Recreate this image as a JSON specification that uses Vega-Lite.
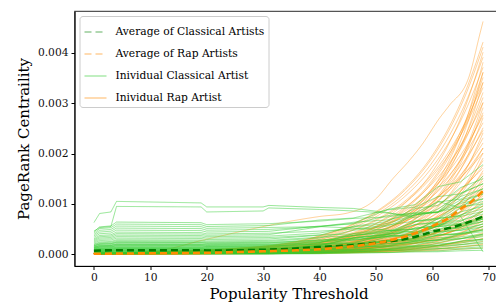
{
"$schema":"https://vega.github.io/schema/vega-lite/v6.json",
"width":428,"height":255,
"autosize":{"type":"none"},
"padding":{"left":74.5,"top":11,"right":0,"bottom":41},
"config":{
 "font":"DejaVu Serif",
 "view":{"stroke":"#555","strokeWidth":1.2},
 "axis":{"labelFont":"DejaVu Serif","titleFont":"DejaVu Serif","labelFontSize":10.7,"titleFontSize":15,"titleFontWeight":"normal","labelColor":"#111","titleColor":"#000","domainColor":"#000","domainWidth":1.1,"tickColor":"#000","tickSize":3.5,"labelPadding":3,"grid":false},
 "legend":{"orient":"top-left","offset":5,"padding":4,"fillColor":"#fff","strokeColor":"#ccc","cornerRadius":3,"labelFont":"DejaVu Serif","labelFontSize":10.7,"labelColor":"#000","symbolSize":484,"symbolType":"stroke","rowPadding":5,"labelOffset":8}
},
"datasets":{
"rap":[
{"s":"r1","x":0,"y":1e-5},{"s":"r1","x":30,"y":2e-5},{"s":"r1","x":40,"y":2.6e-5},{"s":"r1","x":45,"y":3.2e-5},{"s":"r1","x":50,"y":4.2e-5},{"s":"r1","x":55,"y":5.5e-5},{"s":"r1","x":60,"y":7.4e-5},{"s":"r1","x":63,"y":8.9e-5},{"s":"r1","x":66,"y":10.7e-5},{"s":"r1","x":69,"y":13e-5},
{"s":"r2","x":0,"y":1e-5},{"s":"r2","x":30,"y":2.2e-5},{"s":"r2","x":40,"y":3.4e-5},{"s":"r2","x":45,"y":4.3e-5},{"s":"r2","x":50,"y":5.8e-5},{"s":"r2","x":55,"y":7.8e-5},{"s":"r2","x":60,"y":10.6e-5},{"s":"r2","x":63,"y":12.8e-5},{"s":"r2","x":66,"y":15.6e-5},{"s":"r2","x":69,"y":19e-5},
{"s":"r3","x":0,"y":1.5e-5},{"s":"r3","x":30,"y":1.9e-5},{"s":"r3","x":40,"y":3.1e-5},{"s":"r3","x":45,"y":4.3e-5},{"s":"r3","x":50,"y":6e-5},{"s":"r3","x":55,"y":8.6e-5},{"s":"r3","x":60,"y":12.6e-5},{"s":"r3","x":63,"y":16e-5},{"s":"r3","x":66,"y":20.4e-5},{"s":"r3","x":69,"y":26e-5},
{"s":"r4","x":0,"y":1.5e-5},{"s":"r4","x":30,"y":3e-5},{"s":"r4","x":40,"y":4.9e-5},{"s":"r4","x":45,"y":6.6e-5},{"s":"r4","x":50,"y":8.9e-5},{"s":"r4","x":55,"y":12.3e-5},{"s":"r4","x":60,"y":17e-5},{"s":"r4","x":63,"y":20.7e-5},{"s":"r4","x":66,"y":25.3e-5},{"s":"r4","x":69,"y":31e-5},
{"s":"r5","x":0,"y":1e-5},{"s":"r5","x":30,"y":1.7e-5},{"s":"r5","x":40,"y":3e-5},{"s":"r5","x":45,"y":4.3e-5},{"s":"r5","x":50,"y":6.4e-5},{"s":"r5","x":55,"y":9.9e-5},{"s":"r5","x":60,"y":15.7e-5},{"s":"r5","x":63,"y":20.8e-5},{"s":"r5","x":66,"y":27.7e-5},{"s":"r5","x":69,"y":37e-5},
{"s":"r6","x":0,"y":2e-5},{"s":"r6","x":30,"y":2.5e-5},{"s":"r6","x":40,"y":4.6e-5},{"s":"r6","x":45,"y":6.5e-5},{"s":"r6","x":50,"y":9.4e-5},{"s":"r6","x":55,"y":13.8e-5},{"s":"r6","x":60,"y":20.5e-5},{"s":"r6","x":63,"y":26.2e-5},{"s":"r6","x":66,"y":33.6e-5},{"s":"r6","x":69,"y":43e-5},
{"s":"r7","x":0,"y":1.5e-5},{"s":"r7","x":30,"y":4.1e-5},{"s":"r7","x":40,"y":7.3e-5},{"s":"r7","x":45,"y":9.9e-5},{"s":"r7","x":50,"y":13.7e-5},{"s":"r7","x":55,"y":19e-5},{"s":"r7","x":60,"y":26.6e-5},{"s":"r7","x":63,"y":32.5e-5},{"s":"r7","x":66,"y":39.9e-5},{"s":"r7","x":69,"y":49e-5},
{"s":"r8","x":0,"y":1e-5},{"s":"r8","x":30,"y":2.1e-5},{"s":"r8","x":40,"y":4e-5},{"s":"r8","x":45,"y":6e-5},{"s":"r8","x":50,"y":9.3e-5},{"s":"r8","x":55,"y":14.6e-5},{"s":"r8","x":60,"y":23.4e-5},{"s":"r8","x":63,"y":31.2e-5},{"s":"r8","x":66,"y":41.8e-5},{"s":"r8","x":69,"y":56e-5},
{"s":"r9","x":0,"y":2e-5},{"s":"r9","x":30,"y":3.2e-5},{"s":"r9","x":40,"y":6.1e-5},{"s":"r9","x":45,"y":8.8e-5},{"s":"r9","x":50,"y":12.9e-5},{"s":"r9","x":55,"y":19.2e-5},{"s":"r9","x":60,"y":28.9e-5},{"s":"r9","x":63,"y":37e-5},{"s":"r9","x":66,"y":47.5e-5},{"s":"r9","x":69,"y":61e-5},
{"s":"r10","x":0,"y":1e-5},{"s":"r10","x":30,"y":1.6e-5},{"s":"r10","x":40,"y":3e-5},{"s":"r10","x":45,"y":4.7e-5},{"s":"r10","x":50,"y":7.7e-5},{"s":"r10","x":55,"y":13.3e-5},{"s":"r10","x":60,"y":23.4e-5},{"s":"r10","x":63,"y":33.1e-5},{"s":"r10","x":66,"y":47.1e-5},{"s":"r10","x":69,"y":67e-5},
{"s":"r11","x":0,"y":2e-5},{"s":"r11","x":30,"y":5.7e-5},{"s":"r11","x":40,"y":10.4e-5},{"s":"r11","x":45,"y":14.4e-5},{"s":"r11","x":50,"y":20e-5},{"s":"r11","x":55,"y":28e-5},{"s":"r11","x":60,"y":39.4e-5},{"s":"r11","x":63,"y":48.3e-5},{"s":"r11","x":66,"y":59.4e-5},{"s":"r11","x":69,"y":73e-5},
{"s":"r12","x":0,"y":1e-5},{"s":"r12","x":30,"y":2.6e-5},{"s":"r12","x":40,"y":5.3e-5},{"s":"r12","x":45,"y":8.1e-5},{"s":"r12","x":50,"y":12.7e-5},{"s":"r12","x":55,"y":20.3e-5},{"s":"r12","x":60,"y":32.7e-5},{"s":"r12","x":63,"y":43.8e-5},{"s":"r12","x":66,"y":58.8e-5},{"s":"r12","x":69,"y":79e-5},
{"s":"r13","x":0,"y":2e-5},{"s":"r13","x":30,"y":4.1e-5},{"s":"r13","x":40,"y":8.2e-5},{"s":"r13","x":45,"y":12.1e-5},{"s":"r13","x":50,"y":17.9e-5},{"s":"r13","x":55,"y":26.8e-5},{"s":"r13","x":60,"y":40.5e-5},{"s":"r13","x":63,"y":52e-5},{"s":"r13","x":66,"y":66.9e-5},{"s":"r13","x":69,"y":86e-5},
{"s":"r14","x":0,"y":1e-5},{"s":"r14","x":30,"y":1.8e-5},{"s":"r14","x":40,"y":3.8e-5},{"s":"r14","x":45,"y":6e-5},{"s":"r14","x":50,"y":10.2e-5},{"s":"r14","x":55,"y":17.7e-5},{"s":"r14","x":60,"y":31.6e-5},{"s":"r14","x":63,"y":44.8e-5},{"s":"r14","x":66,"y":63.8e-5},{"s":"r14","x":69,"y":91e-5},
{"s":"r15","x":0,"y":1.5e-5},{"s":"r15","x":30,"y":2.9e-5},{"s":"r15","x":40,"y":6.3e-5},{"s":"r15","x":45,"y":9.7e-5},{"s":"r15","x":50,"y":15.4e-5},{"s":"r15","x":55,"y":24.7e-5},{"s":"r15","x":60,"y":40.1e-5},{"s":"r15","x":63,"y":53.7e-5},{"s":"r15","x":66,"y":72.1e-5},{"s":"r15","x":69,"y":97e-5},
{"s":"r16","x":0,"y":2e-5},{"s":"r16","x":30,"y":7.6e-5},{"s":"r16","x":40,"y":14.4e-5},{"s":"r16","x":45,"y":20e-5},{"s":"r16","x":50,"y":27.9e-5},{"s":"r16","x":55,"y":39.3e-5},{"s":"r16","x":60,"y":55.4e-5},{"s":"r16","x":63,"y":68e-5},{"s":"r16","x":66,"y":83.7e-5},{"s":"r16","x":69,"y":103e-5},
{"s":"r17","x":0,"y":1e-5},{"s":"r17","x":30,"y":2e-5},{"s":"r17","x":40,"y":4.4e-5},{"s":"r17","x":45,"y":7.2e-5},{"s":"r17","x":50,"y":12.2e-5},{"s":"r17","x":55,"y":21.5e-5},{"s":"r17","x":60,"y":38.4e-5},{"s":"r17","x":63,"y":54.6e-5},{"s":"r17","x":66,"y":77.8e-5},{"s":"r17","x":69,"y":111e-5},
{"s":"r18","x":0,"y":2e-5},{"s":"r18","x":30,"y":5.2e-5},{"s":"r18","x":40,"y":11e-5},{"s":"r18","x":45,"y":16.3e-5},{"s":"r18","x":50,"y":24.5e-5},{"s":"r18","x":55,"y":36.9e-5},{"s":"r18","x":60,"y":55.9e-5},{"s":"r18","x":63,"y":71.8e-5},{"s":"r18","x":66,"y":92.5e-5},{"s":"r18","x":69,"y":119e-5},
{"s":"r19","x":0,"y":1e-5},{"s":"r19","x":30,"y":3.5e-5},{"s":"r19","x":40,"y":7.9e-5},{"s":"r19","x":45,"y":12.5e-5},{"s":"r19","x":50,"y":19.9e-5},{"s":"r19","x":55,"y":32.1e-5},{"s":"r19","x":60,"y":52.3e-5},{"s":"r19","x":63,"y":70.2e-5},{"s":"r19","x":66,"y":94.4e-5},{"s":"r19","x":69,"y":127e-5},
{"s":"r20","x":0,"y":1e-5},{"s":"r20","x":30,"y":2.3e-5},{"s":"r20","x":40,"y":5.2e-5},{"s":"r20","x":45,"y":8.6e-5},{"s":"r20","x":50,"y":14.8e-5},{"s":"r20","x":55,"y":26.1e-5},{"s":"r20","x":60,"y":46.9e-5},{"s":"r20","x":63,"y":66.7e-5},{"s":"r20","x":66,"y":95.2e-5},{"s":"r20","x":69,"y":136e-5},
{"s":"r21","x":0,"y":2e-5},{"s":"r21","x":30,"y":6.2e-5},{"s":"r21","x":40,"y":13.3e-5},{"s":"r21","x":45,"y":19.9e-5},{"s":"r21","x":50,"y":29.9e-5},{"s":"r21","x":55,"y":45.1e-5},{"s":"r21","x":60,"y":68.4e-5},{"s":"r21","x":63,"y":88e-5},{"s":"r21","x":66,"y":113.4e-5},{"s":"r21","x":69,"y":146e-5},
{"s":"r22","x":0,"y":1.5e-5},{"s":"r22","x":30,"y":4.1e-5},{"s":"r22","x":40,"y":9.5e-5},{"s":"r22","x":45,"y":15.1e-5},{"s":"r22","x":50,"y":24.3e-5},{"s":"r22","x":55,"y":39.3e-5},{"s":"r22","x":60,"y":64.1e-5},{"s":"r22","x":63,"y":86.1e-5},{"s":"r22","x":66,"y":115.9e-5},{"s":"r22","x":69,"y":156e-5},
{"s":"r23","x":0,"y":1e-5},{"s":"r23","x":30,"y":2.5e-5},{"s":"r23","x":40,"y":6.1e-5},{"s":"r23","x":45,"y":10.2e-5},{"s":"r23","x":50,"y":17.8e-5},{"s":"r23","x":55,"y":31.7e-5},{"s":"r23","x":60,"y":57.1e-5},{"s":"r23","x":63,"y":81.4e-5},{"s":"r23","x":66,"y":116.2e-5},{"s":"r23","x":69,"y":166e-5},
{"s":"r24","x":0,"y":2e-5},{"s":"r24","x":30,"y":7.3e-5},{"s":"r24","x":40,"y":15.9e-5},{"s":"r24","x":45,"y":23.8e-5},{"s":"r24","x":50,"y":35.8e-5},{"s":"r24","x":55,"y":54.2e-5},{"s":"r24","x":60,"y":82.4e-5},{"s":"r24","x":63,"y":106e-5},{"s":"r24","x":66,"y":136.6e-5},{"s":"r24","x":69,"y":176e-5},
{"s":"r25","x":0,"y":1e-5},{"s":"r25","x":30,"y":4.7e-5},{"s":"r25","x":40,"y":11.2e-5},{"s":"r25","x":45,"y":17.8e-5},{"s":"r25","x":50,"y":28.8e-5},{"s":"r25","x":55,"y":46.7e-5},{"s":"r25","x":60,"y":76.3e-5},{"s":"r25","x":63,"y":102.6e-5},{"s":"r25","x":66,"y":138.1e-5},{"s":"r25","x":69,"y":186e-5},
{"s":"r26","x":0,"y":1e-5},{"s":"r26","x":30,"y":2.9e-5},{"s":"r26","x":40,"y":7.2e-5},{"s":"r26","x":45,"y":12.2e-5},{"s":"r26","x":50,"y":21.4e-5},{"s":"r26","x":55,"y":38.2e-5},{"s":"r26","x":60,"y":69e-5},{"s":"r26","x":63,"y":98.4e-5},{"s":"r26","x":66,"y":140.6e-5},{"s":"r26","x":69,"y":201e-5},
{"s":"r27","x":0,"y":1.5e-5},{"s":"r27","x":30,"y":5.2e-5},{"s":"r27","x":40,"y":12.6e-5},{"s":"r27","x":45,"y":20.1e-5},{"s":"r27","x":50,"y":32.5e-5},{"s":"r27","x":55,"y":52.9e-5},{"s":"r27","x":60,"y":86.5e-5},{"s":"r27","x":63,"y":116.3e-5},{"s":"r27","x":66,"y":156.6e-5},{"s":"r27","x":69,"y":211e-5},
{"s":"r28","x":0,"y":2e-5},{"s":"r28","x":30,"y":8.9e-5},{"s":"r28","x":40,"y":19.7e-5},{"s":"r28","x":45,"y":29.6e-5},{"s":"r28","x":50,"y":44.8e-5},{"s":"r28","x":55,"y":67.9e-5},{"s":"r28","x":60,"y":103.3e-5},{"s":"r28","x":63,"y":133e-5},{"s":"r28","x":66,"y":171.5e-5},{"s":"r28","x":69,"y":221e-5},
{"s":"r29","x":0,"y":1e-5},{"s":"r29","x":30,"y":3.2e-5},{"s":"r29","x":40,"y":8.4e-5},{"s":"r29","x":45,"y":14.4e-5},{"s":"r29","x":50,"y":25.5e-5},{"s":"r29","x":55,"y":45.6e-5},{"s":"r29","x":60,"y":82.6e-5},{"s":"r29","x":63,"y":117.9e-5},{"s":"r29","x":66,"y":168.5e-5},{"s":"r29","x":69,"y":241e-5},
{"s":"r30","x":0,"y":1e-5},{"s":"r30","x":30,"y":6e-5},{"s":"r30","x":40,"y":14.8e-5},{"s":"r30","x":45,"y":23.8e-5},{"s":"r30","x":50,"y":38.5e-5},{"s":"r30","x":55,"y":62.8e-5},{"s":"r30","x":60,"y":102.8e-5},{"s":"r30","x":63,"y":138.3e-5},{"s":"r30","x":66,"y":186.3e-5},{"s":"r30","x":69,"y":251e-5},
{"s":"r31","x":0,"y":1e-5},{"s":"r31","x":30,"y":3.5e-5},{"s":"r31","x":40,"y":9.4e-5},{"s":"r31","x":45,"y":16.1e-5},{"s":"r31","x":50,"y":28.5e-5},{"s":"r31","x":55,"y":51.2e-5},{"s":"r31","x":60,"y":92.8e-5},{"s":"r31","x":63,"y":132.5e-5},{"s":"r31","x":66,"y":189.5e-5},{"s":"r31","x":69,"y":271e-5},
{"s":"r32","x":0,"y":1.5e-5},{"s":"r32","x":30,"y":6.6e-5},{"s":"r32","x":40,"y":16.4e-5},{"s":"r32","x":45,"y":26.5e-5},{"s":"r32","x":50,"y":43e-5},{"s":"r32","x":55,"y":70.2e-5},{"s":"r32","x":60,"y":115e-5},{"s":"r32","x":63,"y":154.7e-5},{"s":"r32","x":66,"y":208.5e-5},{"s":"r32","x":69,"y":281e-5},
{"s":"r33","x":0,"y":1e-5},{"s":"r33","x":30,"y":3.8e-5},{"s":"r33","x":40,"y":10.3e-5},{"s":"r33","x":45,"y":17.8e-5},{"s":"r33","x":50,"y":31.6e-5},{"s":"r33","x":55,"y":56.8e-5},{"s":"r33","x":60,"y":103e-5},{"s":"r33","x":63,"y":147.1e-5},{"s":"r33","x":66,"y":210.4e-5},{"s":"r33","x":69,"y":301e-5},
{"s":"r34","x":0,"y":2e-5},{"s":"r34","x":30,"y":7.2e-5},{"s":"r34","x":40,"y":18.1e-5},{"s":"r34","x":45,"y":29.2e-5},{"s":"r34","x":50,"y":47.5e-5},{"s":"r34","x":55,"y":77.6e-5},{"s":"r34","x":60,"y":127.2e-5},{"s":"r34","x":63,"y":171.2e-5},{"s":"r34","x":66,"y":230.7e-5},{"s":"r34","x":69,"y":311e-5},
{"s":"r35","x":0,"y":2e-5},{"s":"r35","x":30,"y":12.9e-5},{"s":"r35","x":40,"y":29.1e-5},{"s":"r35","x":45,"y":43.9e-5},{"s":"r35","x":50,"y":66.7e-5},{"s":"r35","x":55,"y":101.3e-5},{"s":"r35","x":60,"y":154.5e-5},{"s":"r35","x":63,"y":199e-5},{"s":"r35","x":66,"y":256.8e-5},{"s":"r35","x":69,"y":331e-5},
{"s":"r36","x":0,"y":1e-5},{"s":"r36","x":30,"y":4.2e-5},{"s":"r36","x":40,"y":11.5e-5},{"s":"r36","x":45,"y":20e-5},{"s":"r36","x":50,"y":35.7e-5},{"s":"r36","x":55,"y":64.2e-5},{"s":"r36","x":60,"y":116.6e-5},{"s":"r36","x":63,"y":166.6e-5},{"s":"r36","x":66,"y":238.3e-5},{"s":"r36","x":69,"y":341e-5},
{"s":"r37","x":0,"y":1e-5},{"s":"r37","x":30,"y":8.2e-5},{"s":"r37","x":40,"y":20.8e-5},{"s":"r37","x":45,"y":33.8e-5},{"s":"r37","x":50,"y":55e-5},{"s":"r37","x":55,"y":89.9e-5},{"s":"r37","x":60,"y":147.5e-5},{"s":"r37","x":63,"y":198.6e-5},{"s":"r37","x":66,"y":267.8e-5},{"s":"r37","x":69,"y":361e-5},
{"s":"r38","x":0,"y":2e-5},{"s":"r38","x":30,"y":14.3e-5},{"s":"r38","x":40,"y":32.5e-5},{"s":"r38","x":45,"y":49.1e-5},{"s":"r38","x":50,"y":74.6e-5},{"s":"r38","x":55,"y":113.5e-5},{"s":"r38","x":60,"y":173e-5},{"s":"r38","x":63,"y":223e-5},{"s":"r38","x":66,"y":287.8e-5},{"s":"r38","x":69,"y":371e-5},
{"s":"r39","x":0,"y":2e-5},{"s":"r39","x":30,"y":15e-5},{"s":"r39","x":40,"y":34.2e-5},{"s":"r39","x":45,"y":51.7e-5},{"s":"r39","x":50,"y":78.6e-5},{"s":"r39","x":55,"y":119.6e-5},{"s":"r39","x":60,"y":182.4e-5},{"s":"r39","x":63,"y":235e-5},{"s":"r39","x":66,"y":303.3e-5},{"s":"r39","x":69,"y":391e-5},
{"s":"r40","x":0,"y":2e-5},{"s":"r40","x":30,"y":15.8e-5},{"s":"r40","x":40,"y":35.9e-5},{"s":"r40","x":45,"y":54.3e-5},{"s":"r40","x":50,"y":82.6e-5},{"s":"r40","x":55,"y":125.6e-5},{"s":"r40","x":60,"y":191.7e-5},{"s":"r40","x":63,"y":247e-5},{"s":"r40","x":66,"y":318.8e-5},{"s":"r40","x":69,"y":411e-5},
{"s":"r41","x":0,"y":2e-5},{"s":"r41","x":30,"y":16.1e-5},{"s":"r41","x":40,"y":36.7e-5},{"s":"r41","x":45,"y":55.6e-5},{"s":"r41","x":50,"y":84.6e-5},{"s":"r41","x":55,"y":128.7e-5},{"s":"r41","x":60,"y":196.3e-5},{"s":"r41","x":63,"y":253e-5},{"s":"r41","x":66,"y":326.5e-5},{"s":"r41","x":69,"y":421e-5},
{"s":"r42","x":0,"y":1e-5},{"s":"r42","x":10,"y":5e-5},{"s":"r42","x":20,"y":30e-5},{"s":"r42","x":30,"y":55e-5},{"s":"r42","x":34,"y":64e-5},{"s":"r42","x":40,"y":75e-5},{"s":"r42","x":45,"y":82e-5},{"s":"r42","x":50,"y":110e-5},{"s":"r42","x":53,"y":150e-5},{"s":"r42","x":56,"y":187e-5},{"s":"r42","x":58,"y":215e-5},{"s":"r42","x":61.4,"y":272e-5},{"s":"r42","x":63,"y":295e-5},{"s":"r42","x":66.5,"y":352e-5},{"s":"r42","x":68.5,"y":440e-5},{"s":"r42","x":69,"y":462e-5},
{"s":"r43","x":0,"y":1e-5},{"s":"r43","x":30,"y":1.4e-5},{"s":"r43","x":40,"y":2.1e-5},{"s":"r43","x":45,"y":2.8e-5},{"s":"r43","x":50,"y":4e-5},{"s":"r43","x":55,"y":5.9e-5},{"s":"r43","x":60,"y":9.1e-5},{"s":"r43","x":63,"y":12e-5},{"s":"r43","x":66,"y":15.8e-5},{"s":"r43","x":69,"y":21e-5},
{"s":"r44","x":0,"y":1e-5},{"s":"r44","x":30,"y":1.4e-5},{"s":"r44","x":40,"y":2.2e-5},{"s":"r44","x":45,"y":3.2e-5},{"s":"r44","x":50,"y":5.1e-5},{"s":"r44","x":55,"y":8.4e-5},{"s":"r44","x":60,"y":14.6e-5},{"s":"r44","x":63,"y":20.5e-5},{"s":"r44","x":66,"y":28.9e-5},{"s":"r44","x":69,"y":41e-5},
{"s":"r45","x":0,"y":2e-5},{"s":"r45","x":30,"y":3.5e-5},{"s":"r45","x":40,"y":7e-5},{"s":"r45","x":45,"y":10.1e-5},{"s":"r45","x":50,"y":14.9e-5},{"s":"r45","x":55,"y":22.3e-5},{"s":"r45","x":60,"y":33.6e-5},{"s":"r45","x":63,"y":43e-5},{"s":"r45","x":66,"y":55.3e-5},{"s":"r45","x":69,"y":71e-5},
{"s":"r46","x":0,"y":1e-5},{"s":"r46","x":30,"y":4.3e-5},{"s":"r46","x":40,"y":7.6e-5},{"s":"r46","x":45,"y":10.3e-5},{"s":"r46","x":50,"y":14.2e-5},{"s":"r46","x":55,"y":19.8e-5},{"s":"r46","x":60,"y":27.7e-5},{"s":"r46","x":63,"y":33.9e-5},{"s":"r46","x":66,"y":41.6e-5},{"s":"r46","x":69,"y":51e-5},
{"s":"r47","x":0,"y":1e-5},{"s":"r47","x":30,"y":7.2e-5},{"s":"r47","x":40,"y":13.4e-5},{"s":"r47","x":45,"y":18.7e-5},{"s":"r47","x":50,"y":26.1e-5},{"s":"r47","x":55,"y":36.6e-5},{"s":"r47","x":60,"y":51.6e-5},{"s":"r47","x":63,"y":63.4e-5},{"s":"r47","x":66,"y":78e-5},{"s":"r47","x":69,"y":96e-5},
{"s":"r48","x":0,"y":2e-5},{"s":"r48","x":30,"y":9.5e-5},{"s":"r48","x":40,"y":18e-5},{"s":"r48","x":45,"y":25.2e-5},{"s":"r48","x":50,"y":35.3e-5},{"s":"r48","x":55,"y":49.8e-5},{"s":"r48","x":60,"y":70.3e-5},{"s":"r48","x":63,"y":86.4e-5},{"s":"r48","x":66,"y":106.4e-5},{"s":"r48","x":69,"y":131e-5},
{"s":"r49","x":0,"y":1e-5},{"s":"r49","x":30,"y":6.8e-5},{"s":"r49","x":40,"y":14.6e-5},{"s":"r49","x":45,"y":21.8e-5},{"s":"r49","x":50,"y":32.8e-5},{"s":"r49","x":55,"y":49.6e-5},{"s":"r49","x":60,"y":75.4e-5},{"s":"r49","x":63,"y":97e-5},{"s":"r49","x":66,"y":125e-5},{"s":"r49","x":69,"y":161e-5},
{"s":"r50","x":0,"y":2e-5},{"s":"r50","x":30,"y":2.8e-5},{"s":"r50","x":40,"y":6.9e-5},{"s":"r50","x":45,"y":11.6e-5},{"s":"r50","x":50,"y":20.4e-5},{"s":"r50","x":55,"y":36.3e-5},{"s":"r50","x":60,"y":65.6e-5},{"s":"r50","x":63,"y":93.5e-5},{"s":"r50","x":66,"y":133.6e-5},{"s":"r50","x":69,"y":191e-5},
{"s":"r51","x":0,"y":1e-5},{"s":"r51","x":30,"y":5.6e-5},{"s":"r51","x":40,"y":13.7e-5},{"s":"r51","x":45,"y":21.9e-5},{"s":"r51","x":50,"y":35.5e-5},{"s":"r51","x":55,"y":57.8e-5},{"s":"r51","x":60,"y":94.6e-5},{"s":"r51","x":63,"y":127.3e-5},{"s":"r51","x":66,"y":171.4e-5},{"s":"r51","x":69,"y":231e-5},
{"s":"r52","x":0,"y":2e-5},{"s":"r52","x":30,"y":10.4e-5},{"s":"r52","x":40,"y":23.1e-5},{"s":"r52","x":45,"y":34.8e-5},{"s":"r52","x":50,"y":52.7e-5},{"s":"r52","x":55,"y":80e-5},{"s":"r52","x":60,"y":121.9e-5},{"s":"r52","x":63,"y":157e-5},{"s":"r52","x":66,"y":202.5e-5},{"s":"r52","x":69,"y":261e-5},
{"s":"r53","x":0,"y":1e-5},{"s":"r53","x":30,"y":3.7e-5},{"s":"r53","x":40,"y":10e-5},{"s":"r53","x":45,"y":17.2e-5},{"s":"r53","x":50,"y":30.6e-5},{"s":"r53","x":55,"y":54.9e-5},{"s":"r53","x":60,"y":99.6e-5},{"s":"r53","x":63,"y":142.2e-5},{"s":"r53","x":66,"y":203.4e-5},{"s":"r53","x":69,"y":291e-5},
{"s":"r54","x":0,"y":2e-5},{"s":"r54","x":30,"y":7.4e-5},{"s":"r54","x":40,"y":18.6e-5},{"s":"r54","x":45,"y":30.1e-5},{"s":"r54","x":50,"y":49e-5},{"s":"r54","x":55,"y":80e-5},{"s":"r54","x":60,"y":131.2e-5},{"s":"r54","x":63,"y":176.7e-5},{"s":"r54","x":66,"y":238.1e-5},{"s":"r54","x":69,"y":321e-5},
{"s":"r55","x":0,"y":1e-5},{"s":"r55","x":30,"y":8e-5},{"s":"r55","x":40,"y":20.3e-5},{"s":"r55","x":45,"y":32.9e-5},{"s":"r55","x":50,"y":53.5e-5},{"s":"r55","x":55,"y":87.5e-5},{"s":"r55","x":60,"y":143.5e-5},{"s":"r55","x":63,"y":193.2e-5},{"s":"r55","x":66,"y":260.4e-5},{"s":"r55","x":69,"y":351e-5},
{"s":"r56","x":0,"y":2e-5},{"s":"r56","x":30,"y":4.5e-5},{"s":"r56","x":40,"y":12.8e-5},{"s":"r56","x":45,"y":22.3e-5},{"s":"r56","x":50,"y":39.8e-5},{"s":"r56","x":55,"y":71.7e-5},{"s":"r56","x":60,"y":130.2e-5},{"s":"r56","x":63,"y":186.1e-5},{"s":"r56","x":66,"y":266.2e-5},{"s":"r56","x":69,"y":381e-5},
{"s":"r57","x":0,"y":1e-5},{"s":"r57","x":30,"y":9e-5},{"s":"r57","x":40,"y":23e-5},{"s":"r57","x":45,"y":37.4e-5},{"s":"r57","x":50,"y":61e-5},{"s":"r57","x":55,"y":99.8e-5},{"s":"r57","x":60,"y":163.8e-5},{"s":"r57","x":63,"y":220.6e-5},{"s":"r57","x":66,"y":297.4e-5},{"s":"r57","x":69,"y":401e-5},
{"s":"r58","x":0,"y":2e-5},{"s":"r58","x":30,"y":5.9e-5},{"s":"r58","x":40,"y":10.8e-5},{"s":"r58","x":45,"y":15e-5},{"s":"r58","x":50,"y":20.8e-5},{"s":"r58","x":55,"y":29.1e-5},{"s":"r58","x":60,"y":41e-5},{"s":"r58","x":63,"y":50.3e-5},{"s":"r58","x":66,"y":61.8e-5},{"s":"r58","x":69,"y":76e-5},
{"s":"r59","x":0,"y":1e-5},{"s":"r59","x":30,"y":5.1e-5},{"s":"r59","x":40,"y":10.8e-5},{"s":"r59","x":45,"y":16e-5},{"s":"r59","x":50,"y":23.9e-5},{"s":"r59","x":55,"y":36e-5},{"s":"r59","x":60,"y":54.5e-5},{"s":"r59","x":63,"y":70e-5},{"s":"r59","x":66,"y":90.1e-5},{"s":"r59","x":69,"y":116e-5},
{"s":"r60","x":0,"y":2e-5},{"s":"r60","x":30,"y":3.8e-5},{"s":"r60","x":40,"y":8.7e-5},{"s":"r60","x":45,"y":13.7e-5},{"s":"r60","x":50,"y":22e-5},{"s":"r60","x":55,"y":35.6e-5},{"s":"r60","x":60,"y":58e-5},{"s":"r60","x":63,"y":77.9e-5},{"s":"r60","x":66,"y":104.7e-5},{"s":"r60","x":69,"y":141e-5},
{"s":"r61","x":0,"y":1e-5},{"s":"r61","x":30,"y":12.1e-5},{"s":"r61","x":40,"y":23.3e-5},{"s":"r61","x":45,"y":32.6e-5},{"s":"r61","x":50,"y":45.9e-5},{"s":"r61","x":55,"y":64.8e-5},{"s":"r61","x":60,"y":91.6e-5},{"s":"r61","x":63,"y":112.7e-5},{"s":"r61","x":66,"y":138.9e-5},{"s":"r61","x":69,"y":171e-5},
{"s":"r62","x":0,"y":2e-5},{"s":"r62","x":30,"y":8.6e-5},{"s":"r62","x":40,"y":18.9e-5},{"s":"r62","x":45,"y":28.3e-5},{"s":"r62","x":50,"y":42.8e-5},{"s":"r62","x":55,"y":64.8e-5},{"s":"r62","x":60,"y":98.7e-5},{"s":"r62","x":63,"y":127e-5},{"s":"r62","x":66,"y":163.8e-5},{"s":"r62","x":69,"y":211e-5},
{"s":"r63","x":0,"y":1e-5},{"s":"r63","x":30,"y":9.8e-5},{"s":"r63","x":40,"y":21.8e-5},{"s":"r63","x":45,"y":32.9e-5},{"s":"r63","x":50,"y":49.8e-5},{"s":"r63","x":55,"y":75.5e-5},{"s":"r63","x":60,"y":114.9e-5},{"s":"r63","x":63,"y":148e-5},{"s":"r63","x":66,"y":190.9e-5},{"s":"r63","x":69,"y":246e-5},
{"s":"r64","x":0,"y":2e-5},{"s":"r64","x":30,"y":10.9e-5},{"s":"r64","x":40,"y":24.4e-5},{"s":"r64","x":45,"y":36.8e-5},{"s":"r64","x":50,"y":55.7e-5},{"s":"r64","x":55,"y":84.6e-5},{"s":"r64","x":60,"y":128.9e-5},{"s":"r64","x":63,"y":166e-5},{"s":"r64","x":66,"y":214.1e-5},{"s":"r64","x":69,"y":276e-5},
{"s":"r65","x":0,"y":1e-5},{"s":"r65","x":30,"y":11.8e-5},{"s":"r65","x":40,"y":26.5e-5},{"s":"r65","x":45,"y":40e-5},{"s":"r65","x":50,"y":60.7e-5},{"s":"r65","x":55,"y":92.2e-5},{"s":"r65","x":60,"y":140.5e-5},{"s":"r65","x":63,"y":181e-5},{"s":"r65","x":66,"y":233.5e-5},{"s":"r65","x":69,"y":301e-5},
{"s":"r66","x":0,"y":1e-5},{"s":"r66","x":30,"y":1.5e-5},{"s":"r66","x":40,"y":2.7e-5},{"s":"r66","x":45,"y":4.1e-5},{"s":"r66","x":50,"y":6.6e-5},{"s":"r66","x":55,"y":11.2e-5},{"s":"r66","x":60,"y":19.7e-5},{"s":"r66","x":63,"y":27.8e-5},{"s":"r66","x":66,"y":39.4e-5},{"s":"r66","x":69,"y":56e-5},
{"s":"r67","x":0,"y":1e-5},{"s":"r67","x":30,"y":1.8e-5},{"s":"r67","x":40,"y":3.6e-5},{"s":"r67","x":45,"y":5.8e-5},{"s":"r67","x":50,"y":9.7e-5},{"s":"r67","x":55,"y":16.8e-5},{"s":"r67","x":60,"y":29.9e-5},{"s":"r67","x":63,"y":42.4e-5},{"s":"r67","x":66,"y":60.3e-5},{"s":"r67","x":69,"y":86e-5},
{"s":"r68","x":0,"y":2e-5},{"s":"r68","x":30,"y":2.1e-5},{"s":"r68","x":40,"y":4.7e-5},{"s":"r68","x":45,"y":7.7e-5},{"s":"r68","x":50,"y":13.2e-5},{"s":"r68","x":55,"y":23.3e-5},{"s":"r68","x":60,"y":41.8e-5},{"s":"r68","x":63,"y":59.4e-5},{"s":"r68","x":66,"y":84.8e-5},{"s":"r68","x":69,"y":121e-5},
{"s":"r69","x":0,"y":1e-5},{"s":"r69","x":30,"y":2.4e-5},{"s":"r69","x":40,"y":5.7e-5},{"s":"r69","x":45,"y":9.4e-5},{"s":"r69","x":50,"y":16.3e-5},{"s":"r69","x":55,"y":28.9e-5},{"s":"r69","x":60,"y":52e-5},{"s":"r69","x":63,"y":74e-5},{"s":"r69","x":66,"y":105.7e-5},{"s":"r69","x":69,"y":151e-5},
{"s":"r70","x":0,"y":1e-5},{"s":"r70","x":30,"y":2.1e-5},{"s":"r70","x":40,"y":3.6e-5},{"s":"r70","x":45,"y":4.9e-5},{"s":"r70","x":50,"y":7e-5},{"s":"r70","x":55,"y":10.1e-5},{"s":"r70","x":60,"y":15e-5},{"s":"r70","x":63,"y":19e-5},{"s":"r70","x":66,"y":24.3e-5},{"s":"r70","x":69,"y":31e-5},
{"s":"r71","x":0,"y":2e-5},{"s":"r71","x":30,"y":5.2e-5},{"s":"r71","x":40,"y":9.5e-5},{"s":"r71","x":45,"y":13.1e-5},{"s":"r71","x":50,"y":18.2e-5},{"s":"r71","x":55,"y":25.4e-5},{"s":"r71","x":60,"y":35.6e-5},{"s":"r71","x":63,"y":43.7e-5},{"s":"r71","x":66,"y":53.7e-5},{"s":"r71","x":69,"y":66e-5},
{"s":"r72","x":0,"y":1e-5},{"s":"r72","x":30,"y":13.2e-5},{"s":"r72","x":40,"y":29.9e-5},{"s":"r72","x":45,"y":45.2e-5},{"s":"r72","x":50,"y":68.7e-5},{"s":"r72","x":55,"y":104.4e-5},{"s":"r72","x":60,"y":159.1e-5},{"s":"r72","x":63,"y":205e-5},{"s":"r72","x":66,"y":264.5e-5},{"s":"r72","x":69,"y":341e-5},
{"s":"r73","x":0,"y":2e-5},{"s":"r73","x":30,"y":14e-5},{"s":"r73","x":40,"y":27.2e-5},{"s":"r73","x":45,"y":38.2e-5},{"s":"r73","x":50,"y":53.8e-5},{"s":"r73","x":55,"y":76e-5},{"s":"r73","x":60,"y":107.6e-5},{"s":"r73","x":63,"y":132.4e-5},{"s":"r73","x":66,"y":163.2e-5},{"s":"r73","x":69,"y":201e-5},
{"s":"r74","x":0,"y":1e-5},{"s":"r74","x":30,"y":4.3e-5},{"s":"r74","x":40,"y":12.2e-5},{"s":"r74","x":45,"y":21.2e-5},{"s":"r74","x":50,"y":37.7e-5},{"s":"r74","x":55,"y":68e-5},{"s":"r74","x":60,"y":123.4e-5},{"s":"r74","x":63,"y":176.3e-5},{"s":"r74","x":66,"y":252.3e-5},{"s":"r74","x":69,"y":361e-5}
],
"cls":[
{"s":"b1","x":0,"y":0.35e-5},{"s":"b1","x":1,"y":0.43e-5},{"s":"b1","x":3,"y":0.44e-5},{"s":"b1","x":4,"y":0.5e-5},{"s":"b1","x":19,"y":0.49e-5},{"s":"b1","x":20,"y":0.46e-5},{"s":"b1","x":31,"y":0.48e-5},{"s":"b1","x":40,"y":1.1e-5},{"s":"b1","x":46,"y":2.8e-5},{"s":"b1","x":52,"y":3.7e-5},{"s":"b1","x":57,"y":6.3e-5},{"s":"b1","x":61,"y":6.8e-5},{"s":"b1","x":65,"y":10.3e-5},{"s":"b1","x":69,"y":12e-5},
{"s":"b2","x":0,"y":0.7e-5},{"s":"b2","x":1,"y":0.85e-5},{"s":"b2","x":3,"y":0.88e-5},{"s":"b2","x":4,"y":1e-5},{"s":"b2","x":19,"y":0.98e-5},{"s":"b2","x":20,"y":0.92e-5},{"s":"b2","x":31,"y":0.95e-5},{"s":"b2","x":40,"y":3.4e-5},{"s":"b2","x":46,"y":4.6e-5},{"s":"b2","x":52,"y":9.4e-5},{"s":"b2","x":57,"y":11.1e-5},{"s":"b2","x":61,"y":17.3e-5},{"s":"b2","x":65,"y":19e-5},{"s":"b2","x":69,"y":25e-5},
{"s":"b3","x":0,"y":1.05e-5},{"s":"b3","x":1,"y":1.28e-5},{"s":"b3","x":3,"y":1.32e-5},{"s":"b3","x":4,"y":1.5e-5},{"s":"b3","x":19,"y":1.47e-5},{"s":"b3","x":20,"y":1.38e-5},{"s":"b3","x":31,"y":1.43e-5},{"s":"b3","x":40,"y":1.8e-5},{"s":"b3","x":46,"y":2.8e-5},{"s":"b3","x":52,"y":3.3e-5},{"s":"b3","x":57,"y":4.75e-5},{"s":"b3","x":61,"y":5.1e-5},{"s":"b3","x":65,"y":7e-5},{"s":"b3","x":69,"y":8e-5},
{"s":"b4","x":0,"y":1.4e-5},{"s":"b4","x":1,"y":1.7e-5},{"s":"b4","x":3,"y":1.76e-5},{"s":"b4","x":4,"y":2e-5},{"s":"b4","x":19,"y":1.96e-5},{"s":"b4","x":20,"y":1.84e-5},{"s":"b4","x":31,"y":1.9e-5},{"s":"b4","x":40,"y":5.8e-5},{"s":"b4","x":46,"y":7.7e-5},{"s":"b4","x":52,"y":15.3e-5},{"s":"b4","x":57,"y":18e-5},{"s":"b4","x":61,"y":27.8e-5},{"s":"b4","x":65,"y":30.5e-5},{"s":"b4","x":69,"y":40e-5},
{"s":"b5","x":0,"y":1.75e-5},{"s":"b5","x":1,"y":2.1e-5},{"s":"b5","x":3,"y":2.2e-5},{"s":"b5","x":4,"y":2.5e-5},{"s":"b5","x":19,"y":2.45e-5},{"s":"b5","x":20,"y":2.3e-5},{"s":"b5","x":31,"y":2.4e-5},{"s":"b5","x":40,"y":3.3e-5},{"s":"b5","x":46,"y":5.6e-5},{"s":"b5","x":52,"y":6.8e-5},{"s":"b5","x":57,"y":10.3e-5},{"s":"b5","x":61,"y":11e-5},{"s":"b5","x":65,"y":15.7e-5},{"s":"b5","x":69,"y":18e-5},
{"s":"b6","x":0,"y":2.1e-5},{"s":"b6","x":1,"y":2.55e-5},{"s":"b6","x":3,"y":2.64e-5},{"s":"b6","x":4,"y":3e-5},{"s":"b6","x":19,"y":2.94e-5},{"s":"b6","x":20,"y":2.76e-5},{"s":"b6","x":31,"y":2.85e-5},{"s":"b6","x":40,"y":8.2e-5},{"s":"b6","x":46,"y":10.8e-5},{"s":"b6","x":52,"y":21.2e-5},{"s":"b6","x":57,"y":24.8e-5},{"s":"b6","x":61,"y":38.4e-5},{"s":"b6","x":65,"y":42e-5},{"s":"b6","x":69,"y":55e-5},
{"s":"b7","x":0,"y":2.45e-5},{"s":"b7","x":1,"y":3e-5},{"s":"b7","x":3,"y":3.1e-5},{"s":"b7","x":4,"y":3.5e-5},{"s":"b7","x":19,"y":3.4e-5},{"s":"b7","x":20,"y":3.2e-5},{"s":"b7","x":31,"y":3.3e-5},{"s":"b7","x":40,"y":4.8e-5},{"s":"b7","x":46,"y":8.8e-5},{"s":"b7","x":52,"y":10.9e-5},{"s":"b7","x":57,"y":16.8e-5},{"s":"b7","x":61,"y":18.1e-5},{"s":"b7","x":65,"y":26e-5},{"s":"b7","x":69,"y":30e-5},
{"s":"b8","x":0,"y":2.8e-5},{"s":"b8","x":1,"y":3.4e-5},{"s":"b8","x":3,"y":3.5e-5},{"s":"b8","x":4,"y":4e-5},{"s":"b8","x":19,"y":3.9e-5},{"s":"b8","x":20,"y":3.7e-5},{"s":"b8","x":31,"y":3.8e-5},{"s":"b8","x":40,"y":10.6e-5},{"s":"b8","x":46,"y":13.9e-5},{"s":"b8","x":52,"y":27.1e-5},{"s":"b8","x":57,"y":31.7e-5},{"s":"b8","x":61,"y":48.9e-5},{"s":"b8","x":65,"y":53.5e-5},{"s":"b8","x":69,"y":70e-5},
{"s":"b9","x":0,"y":3.5e-5},{"s":"b9","x":1,"y":4.25e-5},{"s":"b9","x":3,"y":4.4e-5},{"s":"b9","x":4,"y":5e-5},{"s":"b9","x":19,"y":4.9e-5},{"s":"b9","x":20,"y":4.6e-5},{"s":"b9","x":31,"y":4.75e-5},{"s":"b9","x":40,"y":5.9e-5},{"s":"b9","x":46,"y":8.4e-5},{"s":"b9","x":52,"y":9.8e-5},{"s":"b9","x":57,"y":13.5e-5},{"s":"b9","x":61,"y":14.4e-5},{"s":"b9","x":65,"y":19.5e-5},{"s":"b9","x":69,"y":22e-5},
{"s":"b10","x":0,"y":4.2e-5},{"s":"b10","x":1,"y":5.1e-5},{"s":"b10","x":3,"y":5.3e-5},{"s":"b10","x":4,"y":6e-5},{"s":"b10","x":19,"y":5.9e-5},{"s":"b10","x":20,"y":5.5e-5},{"s":"b10","x":31,"y":5.7e-5},{"s":"b10","x":40,"y":13.9e-5},{"s":"b10","x":46,"y":17.9e-5},{"s":"b10","x":52,"y":33.7e-5},{"s":"b10","x":57,"y":39.2e-5},{"s":"b10","x":61,"y":59.7e-5},{"s":"b10","x":65,"y":65.3e-5},{"s":"b10","x":69,"y":85e-5},
{"s":"b11","x":0,"y":4.9e-5},{"s":"b11","x":1,"y":5.95e-5},{"s":"b11","x":3,"y":6.2e-5},{"s":"b11","x":4,"y":7e-5},{"s":"b11","x":19,"y":6.9e-5},{"s":"b11","x":20,"y":6.4e-5},{"s":"b11","x":31,"y":6.65e-5},{"s":"b11","x":40,"y":8.9e-5},{"s":"b11","x":46,"y":14.6e-5},{"s":"b11","x":52,"y":17.6e-5},{"s":"b11","x":57,"y":26e-5},{"s":"b11","x":61,"y":27.9e-5},{"s":"b11","x":65,"y":39.3e-5},{"s":"b11","x":69,"y":45e-5},
{"s":"b12","x":0,"y":5.6e-5},{"s":"b12","x":1,"y":6.8e-5},{"s":"b12","x":3,"y":7e-5},{"s":"b12","x":4,"y":8e-5},{"s":"b12","x":19,"y":7.8e-5},{"s":"b12","x":20,"y":7.4e-5},{"s":"b12","x":31,"y":7.6e-5},{"s":"b12","x":40,"y":17.2e-5},{"s":"b12","x":46,"y":21.8e-5},{"s":"b12","x":52,"y":40.2e-5},{"s":"b12","x":57,"y":46.6e-5},{"s":"b12","x":61,"y":70.6e-5},{"s":"b12","x":65,"y":77e-5},{"s":"b12","x":69,"y":100e-5},
{"s":"b13","x":0,"y":6.3e-5},{"s":"b13","x":1,"y":7.65e-5},{"s":"b13","x":3,"y":7.9e-5},{"s":"b13","x":4,"y":9e-5},{"s":"b13","x":19,"y":8.8e-5},{"s":"b13","x":20,"y":8.3e-5},{"s":"b13","x":31,"y":8.55e-5},{"s":"b13","x":40,"y":10.3e-5},{"s":"b13","x":46,"y":14.2e-5},{"s":"b13","x":52,"y":16.3e-5},{"s":"b13","x":57,"y":22e-5},{"s":"b13","x":61,"y":23.3e-5},{"s":"b13","x":65,"y":31.1e-5},{"s":"b13","x":69,"y":35e-5},
{"s":"b14","x":0,"y":7e-5},{"s":"b14","x":1,"y":8.5e-5},{"s":"b14","x":3,"y":8.8e-5},{"s":"b14","x":4,"y":10e-5},{"s":"b14","x":19,"y":9.8e-5},{"s":"b14","x":20,"y":9.2e-5},{"s":"b14","x":31,"y":9.5e-5},{"s":"b14","x":40,"y":15e-5},{"s":"b14","x":46,"y":17.5e-5},{"s":"b14","x":52,"y":27.5e-5},{"s":"b14","x":57,"y":31e-5},{"s":"b14","x":61,"y":44e-5},{"s":"b14","x":65,"y":47.5e-5},{"s":"b14","x":69,"y":60e-5},
{"s":"b15","x":0,"y":7.7e-5},{"s":"b15","x":1,"y":9.35e-5},{"s":"b15","x":3,"y":9.7e-5},{"s":"b15","x":4,"y":11e-5},{"s":"b15","x":19,"y":10.8e-5},{"s":"b15","x":20,"y":10.1e-5},{"s":"b15","x":31,"y":10.45e-5},{"s":"b15","x":40,"y":16.5e-5},{"s":"b15","x":46,"y":32.8e-5},{"s":"b15","x":52,"y":41.5e-5},{"s":"b15","x":57,"y":65.5e-5},{"s":"b15","x":61,"y":71e-5},{"s":"b15","x":65,"y":103.7e-5},{"s":"b15","x":69,"y":120e-5},
{"s":"b16","x":0,"y":8.4e-5},{"s":"b16","x":1,"y":10.2e-5},{"s":"b16","x":3,"y":10.6e-5},{"s":"b16","x":4,"y":12e-5},{"s":"b16","x":19,"y":11.8e-5},{"s":"b16","x":20,"y":11e-5},{"s":"b16","x":31,"y":11.4e-5},{"s":"b16","x":40,"y":15.8e-5},{"s":"b16","x":46,"y":17.7e-5},{"s":"b16","x":52,"y":25.3e-5},{"s":"b16","x":57,"y":28e-5},{"s":"b16","x":61,"y":37.8e-5},{"s":"b16","x":65,"y":40.5e-5},{"s":"b16","x":69,"y":50e-5},
{"s":"b17","x":0,"y":9.45e-5},{"s":"b17","x":1,"y":11.5e-5},{"s":"b17","x":3,"y":11.9e-5},{"s":"b17","x":4,"y":13.5e-5},{"s":"b17","x":19,"y":13.2e-5},{"s":"b17","x":20,"y":12.4e-5},{"s":"b17","x":31,"y":12.8e-5},{"s":"b17","x":40,"y":17.3e-5},{"s":"b17","x":46,"y":28.8e-5},{"s":"b17","x":52,"y":34.9e-5},{"s":"b17","x":57,"y":51.8e-5},{"s":"b17","x":61,"y":55.6e-5},{"s":"b17","x":65,"y":78.5e-5},{"s":"b17","x":69,"y":90e-5},
{"s":"b18","x":0,"y":10.5e-5},{"s":"b18","x":1,"y":12.75e-5},{"s":"b18","x":3,"y":13.2e-5},{"s":"b18","x":4,"y":15e-5},{"s":"b18","x":19,"y":14.7e-5},{"s":"b18","x":20,"y":13.8e-5},{"s":"b18","x":31,"y":14.25e-5},{"s":"b18","x":40,"y":21e-5},{"s":"b18","x":46,"y":24e-5},{"s":"b18","x":52,"y":36e-5},{"s":"b18","x":57,"y":40.2e-5},{"s":"b18","x":61,"y":55.8e-5},{"s":"b18","x":65,"y":60e-5},{"s":"b18","x":69,"y":75e-5},
{"s":"b19","x":0,"y":11.55e-5},{"s":"b19","x":1,"y":14e-5},{"s":"b19","x":3,"y":14.5e-5},{"s":"b19","x":4,"y":16.5e-5},{"s":"b19","x":19,"y":16.2e-5},{"s":"b19","x":20,"y":15.2e-5},{"s":"b19","x":31,"y":15.7e-5},{"s":"b19","x":40,"y":22.7e-5},{"s":"b19","x":46,"y":41.2e-5},{"s":"b19","x":52,"y":51.1e-5},{"s":"b19","x":57,"y":78.3e-5},{"s":"b19","x":61,"y":84.4e-5},{"s":"b19","x":65,"y":121.5e-5},{"s":"b19","x":69,"y":140e-5},
{"s":"b20","x":0,"y":12.6e-5},{"s":"b20","x":1,"y":15.3e-5},{"s":"b20","x":3,"y":15.8e-5},{"s":"b20","x":4,"y":18e-5},{"s":"b20","x":19,"y":17.6e-5},{"s":"b20","x":20,"y":16.6e-5},{"s":"b20","x":31,"y":17.1e-5},{"s":"b20","x":40,"y":20.2e-5},{"s":"b20","x":46,"y":21.3e-5},{"s":"b20","x":52,"y":25.7e-5},{"s":"b20","x":57,"y":27.2e-5},{"s":"b20","x":61,"y":33e-5},{"s":"b20","x":65,"y":34.5e-5},{"s":"b20","x":69,"y":40e-5},
{"s":"b21","x":0,"y":13.65e-5},{"s":"b21","x":1,"y":16.6e-5},{"s":"b21","x":3,"y":17.2e-5},{"s":"b21","x":4,"y":19.5e-5},{"s":"b21","x":19,"y":19.1e-5},{"s":"b21","x":20,"y":17.9e-5},{"s":"b21","x":31,"y":18.5e-5},{"s":"b21","x":40,"y":24e-5},{"s":"b21","x":46,"y":37.6e-5},{"s":"b21","x":52,"y":44.8e-5},{"s":"b21","x":57,"y":64.8e-5},{"s":"b21","x":61,"y":69.3e-5},{"s":"b21","x":65,"y":96.4e-5},{"s":"b21","x":69,"y":110e-5},
{"s":"b22","x":0,"y":14.7e-5},{"s":"b22","x":1,"y":17.85e-5},{"s":"b22","x":3,"y":18.5e-5},{"s":"b22","x":4,"y":21e-5},{"s":"b22","x":19,"y":20.6e-5},{"s":"b22","x":20,"y":19.3e-5},{"s":"b22","x":31,"y":20e-5},{"s":"b22","x":40,"y":25.4e-5},{"s":"b22","x":46,"y":27.6e-5},{"s":"b22","x":52,"y":36.4e-5},{"s":"b22","x":57,"y":39.5e-5},{"s":"b22","x":61,"y":50.9e-5},{"s":"b22","x":65,"y":54e-5},{"s":"b22","x":69,"y":65e-5},
{"s":"b23","x":0,"y":16.1e-5},{"s":"b23","x":1,"y":19.55e-5},{"s":"b23","x":3,"y":20.2e-5},{"s":"b23","x":4,"y":23e-5},{"s":"b23","x":19,"y":22.5e-5},{"s":"b23","x":20,"y":21.2e-5},{"s":"b23","x":31,"y":21.85e-5},{"s":"b23","x":40,"y":26.6e-5},{"s":"b23","x":46,"y":37.4e-5},{"s":"b23","x":52,"y":43.2e-5},{"s":"b23","x":57,"y":59e-5},{"s":"b23","x":61,"y":62.6e-5},{"s":"b23","x":65,"y":84.2e-5},{"s":"b23","x":69,"y":95e-5},
{"s":"b24","x":0,"y":17.5e-5},{"s":"b24","x":1,"y":21.25e-5},{"s":"b24","x":3,"y":22e-5},{"s":"b24","x":4,"y":25e-5},{"s":"b24","x":19,"y":24.5e-5},{"s":"b24","x":20,"y":23e-5},{"s":"b24","x":31,"y":23.75e-5},{"s":"b24","x":40,"y":28e-5},{"s":"b24","x":46,"y":29.5e-5},{"s":"b24","x":52,"y":35.5e-5},{"s":"b24","x":57,"y":37.6e-5},{"s":"b24","x":61,"y":45.4e-5},{"s":"b24","x":65,"y":47.5e-5},{"s":"b24","x":69,"y":55e-5},
{"s":"b25","x":0,"y":18.9e-5},{"s":"b25","x":1,"y":22.95e-5},{"s":"b25","x":3,"y":23.8e-5},{"s":"b25","x":4,"y":27e-5},{"s":"b25","x":19,"y":26.5e-5},{"s":"b25","x":20,"y":24.8e-5},{"s":"b25","x":31,"y":25.65e-5},{"s":"b25","x":40,"y":32.2e-5},{"s":"b25","x":46,"y":47.6e-5},{"s":"b25","x":52,"y":55.8e-5},{"s":"b25","x":57,"y":78.5e-5},{"s":"b25","x":61,"y":83.7e-5},{"s":"b25","x":65,"y":114.6e-5},{"s":"b25","x":69,"y":130e-5},
{"s":"b26","x":0,"y":20.3e-5},{"s":"b26","x":1,"y":24.65e-5},{"s":"b26","x":3,"y":25.5e-5},{"s":"b26","x":4,"y":29e-5},{"s":"b26","x":19,"y":28.4e-5},{"s":"b26","x":20,"y":26.7e-5},{"s":"b26","x":31,"y":27.55e-5},{"s":"b26","x":40,"y":34.1e-5},{"s":"b26","x":46,"y":36.7e-5},{"s":"b26","x":52,"y":46.9e-5},{"s":"b26","x":57,"y":50.4e-5},{"s":"b26","x":61,"y":63.7e-5},{"s":"b26","x":65,"y":67.3e-5},{"s":"b26","x":69,"y":80e-5},
{"s":"b27","x":0,"y":0.84e-5},{"s":"b27","x":1,"y":1.02e-5},{"s":"b27","x":3,"y":1.06e-5},{"s":"b27","x":4,"y":1.2e-5},{"s":"b27","x":19,"y":1.18e-5},{"s":"b27","x":20,"y":1.1e-5},{"s":"b27","x":31,"y":1.14e-5},{"s":"b27","x":40,"y":2.6e-5},{"s":"b27","x":46,"y":7e-5},{"s":"b27","x":52,"y":9.3e-5},{"s":"b27","x":57,"y":15.6e-5},{"s":"b27","x":61,"y":17e-5},{"s":"b27","x":65,"y":25.7e-5},{"s":"b27","x":69,"y":30e-5},
{"s":"b28","x":0,"y":1.96e-5},{"s":"b28","x":1,"y":2.38e-5},{"s":"b28","x":3,"y":2.46e-5},{"s":"b28","x":4,"y":2.8e-5},{"s":"b28","x":19,"y":2.74e-5},{"s":"b28","x":20,"y":2.58e-5},{"s":"b28","x":31,"y":2.66e-5},{"s":"b28","x":40,"y":4e-5},{"s":"b28","x":46,"y":4.6e-5},{"s":"b28","x":52,"y":7.1e-5},{"s":"b28","x":57,"y":7.9e-5},{"s":"b28","x":61,"y":11.1e-5},{"s":"b28","x":65,"y":12e-5},{"s":"b28","x":69,"y":15e-5},
{"s":"b29","x":0,"y":3.15e-5},{"s":"b29","x":1,"y":3.83e-5},{"s":"b29","x":3,"y":3.96e-5},{"s":"b29","x":4,"y":4.5e-5},{"s":"b29","x":19,"y":4.41e-5},{"s":"b29","x":20,"y":4.14e-5},{"s":"b29","x":31,"y":4.28e-5},{"s":"b29","x":40,"y":6.7e-5},{"s":"b29","x":46,"y":13.2e-5},{"s":"b29","x":52,"y":16.7e-5},{"s":"b29","x":57,"y":26.3e-5},{"s":"b29","x":61,"y":28.4e-5},{"s":"b29","x":65,"y":41.5e-5},{"s":"b29","x":69,"y":48e-5},
{"s":"b30","x":0,"y":4.55e-5},{"s":"b30","x":1,"y":5.53e-5},{"s":"b30","x":3,"y":5.72e-5},{"s":"b30","x":4,"y":6.5e-5},{"s":"b30","x":19,"y":6.37e-5},{"s":"b30","x":20,"y":5.98e-5},{"s":"b30","x":31,"y":6.18e-5},{"s":"b30","x":40,"y":8.7e-5},{"s":"b30","x":46,"y":9.7e-5},{"s":"b30","x":52,"y":14e-5},{"s":"b30","x":57,"y":15.5e-5},{"s":"b30","x":61,"y":21.1e-5},{"s":"b30","x":65,"y":22.6e-5},{"s":"b30","x":69,"y":28e-5},
{"s":"b31","x":0,"y":5.95e-5},{"s":"b31","x":1,"y":7.23e-5},{"s":"b31","x":3,"y":7.48e-5},{"s":"b31","x":4,"y":8.5e-5},{"s":"b31","x":19,"y":8.33e-5},{"s":"b31","x":20,"y":7.82e-5},{"s":"b31","x":31,"y":8.08e-5},{"s":"b31","x":40,"y":11.3e-5},{"s":"b31","x":46,"y":19.8e-5},{"s":"b31","x":52,"y":24.3e-5},{"s":"b31","x":57,"y":36.8e-5},{"s":"b31","x":61,"y":39.6e-5},{"s":"b31","x":65,"y":56.5e-5},{"s":"b31","x":69,"y":65e-5},
{"s":"b32","x":0,"y":8.05e-5},{"s":"b32","x":1,"y":9.78e-5},{"s":"b32","x":3,"y":10.1e-5},{"s":"b32","x":4,"y":11.5e-5},{"s":"b32","x":19,"y":11.3e-5},{"s":"b32","x":20,"y":10.6e-5},{"s":"b32","x":31,"y":10.9e-5},{"s":"b32","x":40,"y":14.2e-5},{"s":"b32","x":46,"y":15.5e-5},{"s":"b32","x":52,"y":20.8e-5},{"s":"b32","x":57,"y":22.6e-5},{"s":"b32","x":61,"y":29.5e-5},{"s":"b32","x":65,"y":31.4e-5},{"s":"b32","x":69,"y":38e-5},
{"s":"b33","x":0,"y":9.8e-5},{"s":"b33","x":1,"y":11.9e-5},{"s":"b33","x":3,"y":12.3e-5},{"s":"b33","x":4,"y":14e-5},{"s":"b33","x":19,"y":13.7e-5},{"s":"b33","x":20,"y":12.9e-5},{"s":"b33","x":31,"y":13.3e-5},{"s":"b33","x":40,"y":18.6e-5},{"s":"b33","x":46,"y":32.2e-5},{"s":"b33","x":52,"y":39.5e-5},{"s":"b33","x":57,"y":59.5e-5},{"s":"b33","x":61,"y":64e-5},{"s":"b33","x":65,"y":91.4e-5},{"s":"b33","x":69,"y":105e-5},
{"s":"b34","x":0,"y":11.9e-5},{"s":"b34","x":1,"y":14.45e-5},{"s":"b34","x":3,"y":15e-5},{"s":"b34","x":4,"y":17e-5},{"s":"b34","x":19,"y":16.7e-5},{"s":"b34","x":20,"y":15.6e-5},{"s":"b34","x":31,"y":16.2e-5},{"s":"b34","x":40,"y":20.1e-5},{"s":"b34","x":46,"y":21.7e-5},{"s":"b34","x":52,"y":27.9e-5},{"s":"b34","x":57,"y":30e-5},{"s":"b34","x":61,"y":38.1e-5},{"s":"b34","x":65,"y":40.3e-5},{"s":"b34","x":69,"y":48e-5},
{"s":"b35","x":0,"y":14e-5},{"s":"b35","x":1,"y":17e-5},{"s":"b35","x":3,"y":17.6e-5},{"s":"b35","x":4,"y":20e-5},{"s":"b35","x":19,"y":19.6e-5},{"s":"b35","x":20,"y":18.4e-5},{"s":"b35","x":31,"y":19e-5},{"s":"b35","x":40,"y":23.3e-5},{"s":"b35","x":46,"y":33e-5},{"s":"b35","x":52,"y":38.2e-5},{"s":"b35","x":57,"y":52.5e-5},{"s":"b35","x":61,"y":55.8e-5},{"s":"b35","x":65,"y":75.3e-5},{"s":"b35","x":69,"y":85e-5},
{"s":"b36","x":0,"y":16.8e-5},{"s":"b36","x":1,"y":20.4e-5},{"s":"b36","x":3,"y":21.1e-5},{"s":"b36","x":4,"y":24e-5},{"s":"b36","x":19,"y":23.5e-5},{"s":"b36","x":20,"y":22.1e-5},{"s":"b36","x":31,"y":22.8e-5},{"s":"b36","x":40,"y":28.6e-5},{"s":"b36","x":46,"y":30.9e-5},{"s":"b36","x":52,"y":40.1e-5},{"s":"b36","x":57,"y":43.3e-5},{"s":"b36","x":61,"y":55.3e-5},{"s":"b36","x":65,"y":58.5e-5},{"s":"b36","x":69,"y":70e-5},
{"s":"m1","x":0,"y":22.4e-5},{"s":"m1","x":1,"y":27.2e-5},{"s":"m1","x":3,"y":28.2e-5},{"s":"m1","x":4,"y":32e-5},{"s":"m1","x":19,"y":31.4e-5},{"s":"m1","x":20,"y":29.4e-5},{"s":"m1","x":31,"y":30.4e-5},{"s":"m1","x":40,"y":37.9e-5},{"s":"m1","x":46,"y":55.6e-5},{"s":"m1","x":52,"y":65e-5},{"s":"m1","x":57,"y":91e-5},{"s":"m1","x":61,"y":96.9e-5},{"s":"m1","x":65,"y":132.3e-5},{"s":"m1","x":69,"y":150e-5},
{"s":"m2","x":0,"y":24.5e-5},{"s":"m2","x":1,"y":29.75e-5},{"s":"m2","x":3,"y":30.8e-5},{"s":"m2","x":4,"y":35e-5},{"s":"m2","x":19,"y":34.3e-5},{"s":"m2","x":20,"y":32.2e-5},{"s":"m2","x":31,"y":33.25e-5},{"s":"m2","x":40,"y":38.5e-5},{"s":"m2","x":46,"y":40.3e-5},{"s":"m2","x":52,"y":47.3e-5},{"s":"m2","x":57,"y":49.7e-5},{"s":"m2","x":61,"y":58.8e-5},{"s":"m2","x":65,"y":61.3e-5},{"s":"m2","x":69,"y":70e-5},
{"s":"m3","x":0,"y":26.6e-5},{"s":"m3","x":1,"y":32.3e-5},{"s":"m3","x":3,"y":33.4e-5},{"s":"m3","x":4,"y":38e-5},{"s":"m3","x":19,"y":37.2e-5},{"s":"m3","x":20,"y":35e-5},{"s":"m3","x":31,"y":36.1e-5},{"s":"m3","x":40,"y":42.1e-5},{"s":"m3","x":46,"y":54.4e-5},{"s":"m3","x":52,"y":61e-5},{"s":"m3","x":57,"y":79e-5},{"s":"m3","x":61,"y":83.1e-5},{"s":"m3","x":65,"y":107.7e-5},{"s":"m3","x":69,"y":120e-5},
{"s":"m4","x":0,"y":28.7e-5},{"s":"m4","x":1,"y":34.85e-5},{"s":"m4","x":3,"y":36.1e-5},{"s":"m4","x":4,"y":41e-5},{"s":"m4","x":19,"y":40.2e-5},{"s":"m4","x":20,"y":37.7e-5},{"s":"m4","x":31,"y":39e-5},{"s":"m4","x":40,"y":54.7e-5},{"s":"m4","x":46,"y":61.6e-5},{"s":"m4","x":52,"y":89e-5},{"s":"m4","x":57,"y":98.5e-5},{"s":"m4","x":61,"y":134.2e-5},{"s":"m4","x":65,"y":143.8e-5},{"s":"m4","x":69,"y":178e-5},
{"s":"m5","x":0,"y":30.8e-5},{"s":"m5","x":1,"y":37.4e-5},{"s":"m5","x":3,"y":38.7e-5},{"s":"m5","x":4,"y":44e-5},{"s":"m5","x":19,"y":43.1e-5},{"s":"m5","x":20,"y":40.5e-5},{"s":"m5","x":31,"y":41.8e-5},{"s":"m5","x":40,"y":46e-5},{"s":"m5","x":46,"y":50e-5},{"s":"m5","x":52,"y":58e-5},{"s":"m5","x":57,"y":66e-5},{"s":"m5","x":61,"y":72e-5},{"s":"m5","x":65,"y":76e-5},{"s":"m5","x":69,"y":5e-5},
{"s":"m6","x":0,"y":33.6e-5},{"s":"m6","x":1,"y":40.8e-5},{"s":"m6","x":3,"y":42.2e-5},{"s":"m6","x":4,"y":48e-5},{"s":"m6","x":19,"y":47e-5},{"s":"m6","x":20,"y":44.2e-5},{"s":"m6","x":31,"y":45.6e-5},{"s":"m6","x":40,"y":56.2e-5},{"s":"m6","x":46,"y":60.3e-5},{"s":"m6","x":52,"y":76.7e-5},{"s":"m6","x":57,"y":82.4e-5},{"s":"m6","x":61,"y":103.8e-5},{"s":"m6","x":65,"y":109.5e-5},{"s":"m6","x":69,"y":130e-5},
{"s":"m7","x":0,"y":36.4e-5},{"s":"m7","x":1,"y":44.2e-5},{"s":"m7","x":3,"y":45.8e-5},{"s":"m7","x":4,"y":52e-5},{"s":"m7","x":19,"y":51e-5},{"s":"m7","x":20,"y":47.8e-5},{"s":"m7","x":31,"y":49.4e-5},{"s":"m7","x":40,"y":54.9e-5},{"s":"m7","x":46,"y":63.6e-5},{"s":"m7","x":52,"y":68.2e-5},{"s":"m7","x":57,"y":81e-5},{"s":"m7","x":61,"y":83.9e-5},{"s":"m7","x":65,"y":101.3e-5},{"s":"m7","x":69,"y":110e-5},
{"s":"m8","x":0,"y":39.2e-5},{"s":"m8","x":1,"y":47.6e-5},{"s":"m8","x":3,"y":49.3e-5},{"s":"m8","x":4,"y":56e-5},{"s":"m8","x":19,"y":54.9e-5},{"s":"m8","x":20,"y":51.5e-5},{"s":"m8","x":31,"y":53.2e-5},{"s":"m8","x":40,"y":55e-5},{"s":"m8","x":46,"y":52e-5},{"s":"m8","x":52,"y":48e-5},{"s":"m8","x":57,"y":44e-5},{"s":"m8","x":61,"y":56e-5},{"s":"m8","x":65,"y":50e-5},{"s":"m8","x":69,"y":60e-5},
{"s":"m9","x":0,"y":42e-5},{"s":"m9","x":1,"y":51e-5},{"s":"m9","x":3,"y":52.8e-5},{"s":"m9","x":4,"y":60e-5},{"s":"m9","x":19,"y":58.8e-5},{"s":"m9","x":20,"y":55.2e-5},{"s":"m9","x":31,"y":57e-5},{"s":"m9","x":40,"y":68e-5},{"s":"m9","x":46,"y":72e-5},{"s":"m9","x":52,"y":88e-5},{"s":"m9","x":57,"y":93.6e-5},{"s":"m9","x":61,"y":114.4e-5},{"s":"m9","x":65,"y":120e-5},{"s":"m9","x":69,"y":140e-5},
{"s":"m10","x":0,"y":44.8e-5},{"s":"m10","x":1,"y":54.4e-5},{"s":"m10","x":3,"y":56.3e-5},{"s":"m10","x":4,"y":64e-5},{"s":"m10","x":19,"y":62.7e-5},{"s":"m10","x":20,"y":58.9e-5},{"s":"m10","x":31,"y":60.8e-5},{"s":"m10","x":40,"y":65.8e-5},{"s":"m10","x":46,"y":71.2e-5},{"s":"m10","x":52,"y":74.1e-5},{"s":"m10","x":57,"y":82e-5},{"s":"m10","x":61,"y":83.8e-5},{"s":"m10","x":65,"y":94.6e-5},{"s":"m10","x":69,"y":100e-5},
{"s":"t1","x":0,"y":63e-5},{"s":"t1","x":1,"y":81e-5},{"s":"t1","x":3,"y":84e-5},{"s":"t1","x":4,"y":105e-5},{"s":"t1","x":19,"y":102e-5},{"s":"t1","x":20,"y":94e-5},{"s":"t1","x":30,"y":94e-5},{"s":"t1","x":31,"y":97e-5},{"s":"t1","x":40,"y":93e-5},{"s":"t1","x":46,"y":91e-5},{"s":"t1","x":52,"y":83e-5},{"s":"t1","x":57,"y":72e-5},{"s":"t1","x":61,"y":90e-5},{"s":"t1","x":65,"y":118e-5},{"s":"t1","x":69,"y":155e-5},
{"s":"t2","x":0,"y":46e-5},{"s":"t2","x":1,"y":53e-5},{"s":"t2","x":3,"y":55e-5},{"s":"t2","x":4,"y":95e-5},{"s":"t2","x":19,"y":94e-5},{"s":"t2","x":20,"y":84e-5},{"s":"t2","x":30,"y":86e-5},{"s":"t2","x":31,"y":92e-5},{"s":"t2","x":40,"y":89e-5},{"s":"t2","x":46,"y":86e-5},{"s":"t2","x":52,"y":82e-5},{"s":"t2","x":57,"y":76e-5},{"s":"t2","x":61,"y":105e-5},{"s":"t2","x":65,"y":92e-5},{"s":"t2","x":69,"y":125e-5}
],
"avgc":[
{"x":0,"y":7e-5},{"x":1,"y":7.5e-5},{"x":4,"y":8e-5},{"x":19,"y":8e-5},{"x":20,"y":7.5e-5},{"x":30,"y":9e-5},{"x":35,"y":11e-5},{"x":40,"y":14.5e-5},{"x":45,"y":17.5e-5},{"x":50,"y":23e-5},{"x":55,"y":30e-5},{"x":58,"y":38e-5},{"x":60,"y":45e-5},{"x":63,"y":52e-5},{"x":66,"y":62e-5},{"x":69,"y":75e-5}
],
"avgr":[
{"x":0,"y":1e-5},{"x":10,"y":2e-5},{"x":20,"y":3e-5},{"x":30,"y":6e-5},{"x":36,"y":8e-5},{"x":40,"y":10e-5},{"x":45,"y":15e-5},{"x":50,"y":22e-5},{"x":53,"y":29e-5},{"x":56,"y":38e-5},{"x":60,"y":56e-5},{"x":63,"y":73e-5},{"x":65,"y":90e-5},{"x":67,"y":105e-5},{"x":69,"y":126e-5}
]
},
"encoding":{
 "x":{"field":"x","type":"quantitative","scale":{"domain":[-3.45,72.45],"nice":false,"zero":false},"axis":{"title":"Popularity Threshold","values":[0,10,20,30,40,50,60,70],"titlePadding":4}},
 "y":{"field":"y","type":"quantitative","scale":{"domain":[-0.000232,0.004828],"nice":false,"zero":false},"axis":{"title":"PageRank Centraility","values":[0,0.001,0.002,0.003,0.004],"format":".3f","titlePadding":6}}
},
"layer":[
 {"data":{"name":"rap"},"mark":{"type":"line","interpolate":"monotone","strokeWidth":1,"opacity":0.4},
  "encoding":{"detail":{"field":"s"},
   "color":{"datum":"Inividual Rap Artist","scale":{"domain":["Average of Classical Artists","Average of Rap Artists","Inividual Classical Artist","Inividual Rap Artist"],"range":["#008000","#ff8c00","#32cd32","#ff8c00"]},
     "legend":{"title":null,"encode":{"symbols":{"strokeWidth":{"condition":{"test":"indexof(datum.label, 'Average') === 0","value":2.6},"value":1},"opacity":{"condition":{"test":"indexof(datum.label, 'Average') === 0","value":1},"value":0.3}}}}},
   "strokeDash":{"datum":"Inividual Rap Artist","scale":{"domain":["Average of Classical Artists","Average of Rap Artists","Inividual Classical Artist","Inividual Rap Artist"],"range":[[7,4],[7,4],[1,0],[1,0]]},
     "legend":{"title":null,"encode":{"symbols":{"strokeWidth":{"condition":{"test":"indexof(datum.label, 'Average') === 0","value":2.6},"value":1},"opacity":{"condition":{"test":"indexof(datum.label, 'Average') === 0","value":1},"value":0.3}}}}}}},
 {"data":{"name":"cls"},"mark":{"type":"line","strokeWidth":1,"opacity":0.5},
  "encoding":{"detail":{"field":"s"},
   "color":{"datum":"Inividual Classical Artist"},
   "strokeDash":{"datum":"Inividual Classical Artist"}}},
 {"data":{"name":"avgc"},"mark":{"type":"line","interpolate":"monotone","strokeWidth":2.6,"opacity":1},
  "encoding":{
   "color":{"datum":"Average of Classical Artists"},
   "strokeDash":{"datum":"Average of Classical Artists"}}},
 {"data":{"name":"avgr"},"mark":{"type":"line","interpolate":"monotone","strokeWidth":2.6,"opacity":1},
  "encoding":{
   "color":{"datum":"Average of Rap Artists"},
   "strokeDash":{"datum":"Average of Rap Artists"}}}
]
}
